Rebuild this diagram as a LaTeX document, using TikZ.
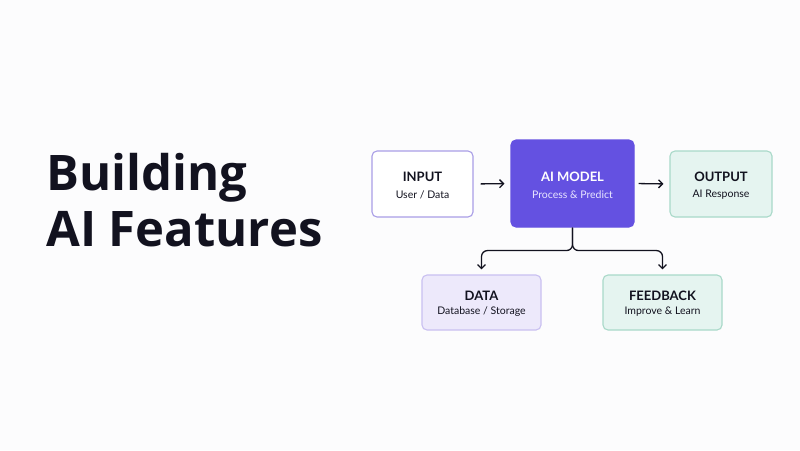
\documentclass[tikz,border=0pt]{standalone}
\usepackage{fontspec}
\setmainfont{Lato}
\newfontfamily\titlefont{Open Sans}
\usetikzlibrary{arrows.meta,calc}
\definecolor{bg}{HTML}{FCFCFD}
\definecolor{ink}{HTML}{12121F}
\definecolor{modelfill}{HTML}{6451E1}
\definecolor{lavline}{HTML}{A99EE6}
\definecolor{datafill}{HTML}{EDE9FB}
\definecolor{dataline}{HTML}{C9C0F1}
\definecolor{greenfill}{HTML}{E5F4F0}
\definecolor{greenline}{HTML}{A9D9C9}
\definecolor{modeltext}{HTML}{E9E6FF}
\tikzset{
  box/.style={draw, rounded corners=5pt, line width=1.1pt, inner sep=0pt, align=center, text=ink},
  arr/.style={draw=ink, line width=1.3pt, -{Straight Barb[length=4pt,width=8pt]}},
  ttl/.style={font=\bfseries\fontsize{13}{15}\selectfont},
  sub/.style={font=\fontsize{10.5}{13}\selectfont},
  bigttl/.style={anchor=base west, text=ink, inner sep=0pt, font=\titlefont\bfseries\fontsize{49}{55}\selectfont},
}
\begin{document}
\begin{tikzpicture}[x=1pt,y=-1pt]
\fill[bg] (0,0) rectangle (800,450);
\useasboundingbox (0,0) rectangle (800,450);
\node[bigttl] (t1) at (46,190) {Building};
\node[bigttl] (t2) at (46,246) {AI Features};

\node[box, draw=lavline, fill=white, minimum width=101pt, minimum height=66pt] (input) at (422.5,184) {};
\node[ttl, text=ink] (inputt) at (422.5,177) {INPUT};
\node[sub, text=ink] (inputs) at (422.5,195) {User / Data};

\node[box, draw=modelfill, fill=modelfill, minimum width=123pt, minimum height=87pt] (model) at (572.5,183.5) {};
\node[ttl, text=white] (modelt) at (572.5,177) {AI MODEL};
\node[sub, text=modeltext] (models) at (572.5,195) {Process \& Predict};

\node[box, draw=greenline, fill=greenfill, minimum width=102pt, minimum height=66pt] (output) at (721,184) {};
\node[ttl, text=ink] (outputt) at (721,177) {OUTPUT};
\node[sub, text=ink] (outputs) at (721,195) {AI Response};

\node[box, draw=dataline, fill=datafill, minimum width=119pt, minimum height=55pt] (data) at (481.5,302.5) {};
\node[ttl, text=ink] (datat) at (481.5,296) {DATA};
\node[sub, text=ink] (datas) at (481.5,312) {Database / Storage};

\node[box, draw=greenline, fill=greenfill, minimum width=119pt, minimum height=55pt] (fb) at (662.5,302.5) {};
\node[ttl, text=ink] (fbt) at (662.5,296) {FEEDBACK};
\node[sub, text=ink] (fbs) at (662.5,312) {Improve \& Learn};

\draw[arr, shorten <=7pt, shorten >=6pt] (input.east) -- (model.west);
\draw[arr, shorten <=4pt, shorten >=6pt] (model.east) -- (output.west);
\draw[arr, rounded corners=6pt, shorten >=5pt] (model.south) -- ++(0,23) -| (data.north);
\draw[arr, rounded corners=6pt, shorten >=5pt] (model.south) -- ++(0,23) -| (fb.north);
\end{tikzpicture}
\end{document}
